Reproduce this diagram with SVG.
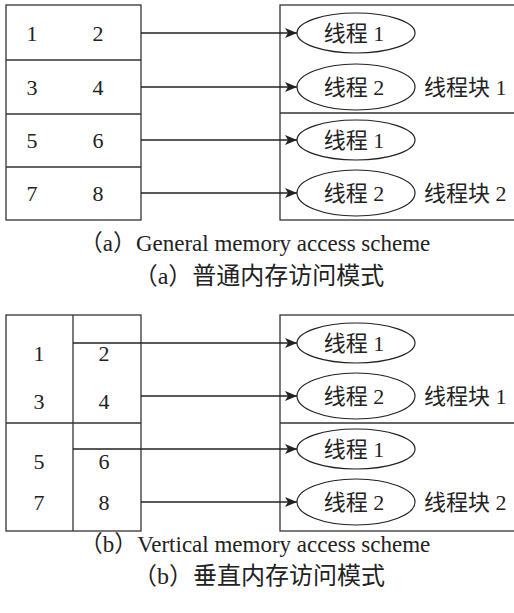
<svg xmlns="http://www.w3.org/2000/svg" width="514" height="613" viewBox="0 0 514 613">
<defs>
<marker id="arr" viewBox="0 0 12 10" refX="12" refY="5" markerWidth="12" markerHeight="10" markerUnits="userSpaceOnUse" orient="auto">
<path d="M0,0 L12,5 L0,10 L3,5 Z" fill="#222"/>
</marker>
</defs>
<style>
.box{fill:none;stroke:#333;stroke-width:1.3}
.ln{fill:none;stroke:#333;stroke-width:1.3}
.con{stroke:#222;stroke-width:1.3;fill:none}
.el{fill:#fff;stroke:#222;stroke-width:1.2}
.t{font-family:"Liberation Serif","Noto Sans CJK SC",serif;font-size:22px;fill:#222}
.n{font-family:"Liberation Serif",serif;font-size:22px;fill:#222}
.cap{font-size:23px}
.cap2{font-size:24px}
.c{text-anchor:middle}
</style>
<rect width="514" height="613" fill="#fff"/>

<g id="tableA">
<rect class="box" x="6" y="5" width="135" height="215"/>
<line class="ln" x1="6" y1="60" x2="141" y2="60"/>
<line class="ln" x1="6" y1="114" x2="141" y2="114"/>
<line class="ln" x1="6" y1="167" x2="141" y2="167"/>
<text class="n c" x="32" y="41">1</text><text class="n c" x="98" y="41">2</text>
<text class="n c" x="32" y="95">3</text><text class="n c" x="98" y="95">4</text>
<text class="n c" x="32" y="148">5</text><text class="n c" x="98" y="148">6</text>
<text class="n c" x="32" y="201">7</text><text class="n c" x="98" y="201">8</text>
</g>

<g id="blocksA">
<rect class="box" x="280" y="5" width="240" height="215"/>
<line class="ln" x1="280" y1="113" x2="514" y2="113"/>
<text class="t" x="424" y="95">线程块 1</text>
<text class="t" x="424" y="201">线程块 2</text>
</g>
<g id="a_t1"><ellipse class="el" cx="356" cy="33" rx="59" ry="20"/><text class="t c" x="354" y="41">线程 1</text></g>
<g id="a_t2"><ellipse class="el" cx="356" cy="87" rx="59" ry="23"/><text class="t c" x="354" y="95">线程 2</text></g>
<g id="a_t3"><ellipse class="el" cx="356" cy="140" rx="59" ry="20"/><text class="t c" x="354" y="148">线程 1</text></g>
<g id="a_t4"><ellipse class="el" cx="356" cy="193" rx="59" ry="23"/><text class="t c" x="354" y="201">线程 2</text></g>

<g id="connectorsA">
<line class="con" x1="141" y1="33" x2="297" y2="33" marker-end="url(#arr)"/>
<line class="con" x1="141" y1="87" x2="297" y2="87" marker-end="url(#arr)"/>
<line class="con" x1="141" y1="140" x2="297" y2="140" marker-end="url(#arr)"/>
<line class="con" x1="141" y1="193" x2="297" y2="193" marker-end="url(#arr)"/>
</g>

<g id="captionA">
<text class="t cap c" x="255" y="251">（a）General memory access scheme</text>
<text class="t cap2 c" x="259" y="284">（a）普通内存访问模式</text>
</g>

<g id="tableB">
<rect class="box" x="6" y="315" width="135" height="216"/>
<line class="ln" x1="73" y1="315" x2="73" y2="531"/>
<line class="ln" x1="6" y1="423" x2="141" y2="423"/>
<text class="n c" x="39" y="361">1</text><text class="n c" x="104" y="361">2</text>
<text class="n c" x="39" y="409">3</text><text class="n c" x="104" y="409">4</text>
<text class="n c" x="39" y="469">5</text><text class="n c" x="104" y="469">6</text>
<text class="n c" x="39" y="510">7</text><text class="n c" x="104" y="510">8</text>
</g>

<g id="blocksB">
<rect class="box" x="280" y="315" width="240" height="216"/>
<line class="ln" x1="280" y1="423" x2="514" y2="423"/>
<text class="t" x="424" y="404">线程块 1</text>
<text class="t" x="424" y="510">线程块 2</text>
</g>
<g id="b_t1"><ellipse class="el" cx="356" cy="343" rx="59" ry="20"/><text class="t c" x="354" y="351">线程 1</text></g>
<g id="b_t2"><ellipse class="el" cx="356" cy="396" rx="59" ry="23"/><text class="t c" x="354" y="404">线程 2</text></g>
<g id="b_t3"><ellipse class="el" cx="356" cy="449" rx="59" ry="20"/><text class="t c" x="354" y="457">线程 1</text></g>
<g id="b_t4"><ellipse class="el" cx="356" cy="502" rx="59" ry="23"/><text class="t c" x="354" y="510">线程 2</text></g>

<g id="connectorsB">
<line class="con" x1="73" y1="343" x2="297" y2="343" marker-end="url(#arr)"/>
<line class="con" x1="141" y1="396" x2="297" y2="396" marker-end="url(#arr)"/>
<line class="con" x1="73" y1="449" x2="297" y2="449" marker-end="url(#arr)"/>
<line class="con" x1="141" y1="502" x2="297" y2="502" marker-end="url(#arr)"/>
</g>

<g id="captionB">
<text class="t cap c" x="255" y="552">（b）Vertical memory access scheme</text>
<text class="t cap2 c" x="259" y="584">（b）垂直内存访问模式</text>
</g>
</svg>
